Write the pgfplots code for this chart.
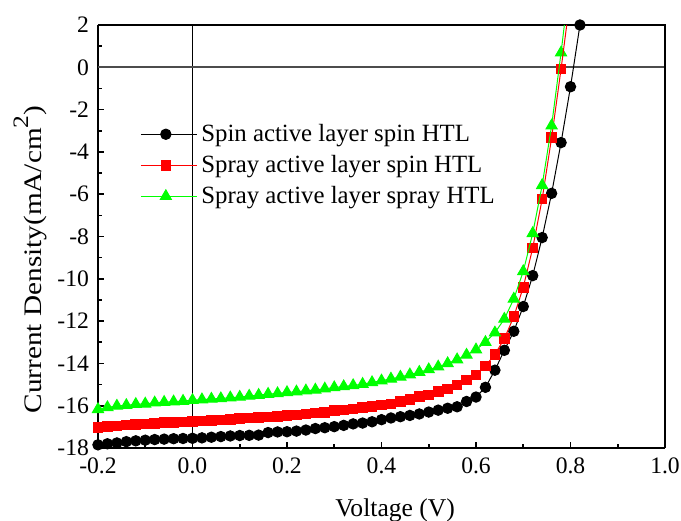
\documentclass[border=0pt]{standalone}
\usepackage{fontspec}
\setmainfont{Liberation Serif}
\usepackage{graphicx}
\usepackage{pgfplots}
\pgfplotsset{compat=1.18}

\newcommand{\fnt}{\fontsize{12.4}{14}\selectfont}
\newcommand{\tfnt}{\fontsize{11.8}{14}\selectfont}

\begin{document}
\begin{tikzpicture}
\begin{axis}[
  scale only axis,
  width=283.5pt, height=211.5pt,
  xmin=-0.2, xmax=1.0, ymin=-18, ymax=2,
  clip mode=individual,
  axis x line*=bottom, axis y line*=left,
  xtick={-0.2,0,0.2,0.4,0.6,0.8,1.0},
  xticklabels={-0.2,0.0,0.2,0.4,0.6,0.8,1.0},
  ytick={-18,-16,...,2},
  yticklabels={-18,-16,-14,-12,-10,-8,-6,-4,-2,0,2},
  minor x tick num=1, minor y tick num=1,
  tick align=inside,
  major tick length=3pt, minor tick length=2pt,
  tick style={black, line width=0.8pt},
  axis line style={line width=1pt},
  tick label style={font=\tfnt},
  xticklabel style={yshift=-1.5pt},
  yticklabel style={xshift=-1pt},
  legend style={draw=none, fill=none, font=\fnt, at={(rel axis cs:0.074,0.776)},
    anchor=north west, inner sep=0pt, row sep=1.4pt,
    /tikz/every even column/.append style={column sep=0pt}},
  legend cell align=left,
  legend image code/.code={\draw[mark repeat=2,mark phase=2,#1]
    plot coordinates {(0pt,0pt)(12.5pt,0pt)(25pt,0pt)}; \path (25pt,0pt) -- (28pt,0pt);},
]
\draw[black, line width=0.5pt] (axis cs:0,-18) -- (axis cs:0,2);
\draw[black!70, line width=0.8pt] (axis cs:-0.2,0) -- (axis cs:1,0);
\draw[black, line width=1pt] (rel axis cs:0,1) -- (rel axis cs:1,1) -- (rel axis cs:1,0);

\addplot[black, line width=0.5pt, mark=*, mark size=2.6pt, mark options={solid,fill=black}] coordinates {
(-0.20,-17.85) (-0.18,-17.80) (-0.16,-17.76) (-0.14,-17.70) (-0.12,-17.66)
(-0.10,-17.63) (-0.08,-17.60) (-0.06,-17.58) (-0.04,-17.56) (-0.02,-17.55)
(0.00,-17.54) (0.02,-17.52) (0.04,-17.49) (0.06,-17.46) (0.08,-17.43)
(0.10,-17.41) (0.12,-17.40) (0.14,-17.39) (0.16,-17.27) (0.18,-17.24)
(0.20,-17.23) (0.22,-17.20) (0.24,-17.15) (0.26,-17.08) (0.28,-17.04)
(0.30,-16.99) (0.32,-16.93) (0.34,-16.86) (0.36,-16.82) (0.38,-16.76)
(0.40,-16.66) (0.42,-16.58) (0.44,-16.52) (0.46,-16.46) (0.48,-16.39)
(0.50,-16.30) (0.52,-16.21) (0.54,-16.12) (0.56,-16.05) (0.58,-15.80)
(0.60,-15.59) (0.62,-15.13) (0.64,-14.32) (0.66,-13.38) (0.68,-12.48)
(0.70,-11.31) (0.72,-9.85) (0.74,-8.05) (0.76,-5.96) (0.78,-3.56)
(0.80,-0.92) (0.82,2.0)};
\addlegendentry{Spin active layer spin HTL}

\addplot[red, line width=0.5pt, mark=square*, mark size=2.4pt, mark options={solid,fill=red}] coordinates {
(-0.20,-17.04) (-0.18,-16.99) (-0.16,-16.96) (-0.14,-16.91) (-0.12,-16.88)
(-0.10,-16.87) (-0.08,-16.83) (-0.06,-16.80) (-0.04,-16.78) (-0.02,-16.77)
(0.00,-16.76) (0.02,-16.72) (0.04,-16.69) (0.06,-16.67) (0.08,-16.64)
(0.10,-16.61) (0.12,-16.59) (0.14,-16.56) (0.16,-16.53) (0.18,-16.50)
(0.20,-16.46) (0.22,-16.43) (0.24,-16.40) (0.26,-16.35) (0.28,-16.31)
(0.30,-16.24) (0.32,-16.20) (0.34,-16.15) (0.36,-16.09) (0.38,-16.03)
(0.40,-15.97) (0.42,-15.91) (0.44,-15.81) (0.46,-15.70) (0.48,-15.57)
(0.50,-15.49) (0.52,-15.34) (0.54,-15.21) (0.56,-15.02) (0.58,-14.78)
(0.60,-14.55) (0.62,-14.12) (0.64,-13.57) (0.66,-12.83) (0.68,-11.79)
(0.70,-10.40) (0.72,-8.55) (0.74,-6.23) (0.76,-3.33) (0.78,-0.08)};
\addlegendentry{Spray active layer spin HTL}

\addplot[green, line width=0.5pt, mark=triangle*, mark size=3.2pt, mark options={solid,fill=green}] coordinates {
(-0.20,-16.17) (-0.18,-16.08) (-0.16,-16.01) (-0.14,-15.98) (-0.12,-15.93)
(-0.10,-15.91) (-0.08,-15.86) (-0.06,-15.83) (-0.04,-15.81) (-0.02,-15.78)
(0.00,-15.74) (0.02,-15.71) (0.04,-15.68) (0.06,-15.66) (0.08,-15.62)
(0.10,-15.59) (0.12,-15.54) (0.14,-15.50) (0.16,-15.45) (0.18,-15.42)
(0.20,-15.37) (0.22,-15.34) (0.24,-15.29) (0.26,-15.25) (0.28,-15.20)
(0.30,-15.14) (0.32,-15.09) (0.34,-15.04) (0.36,-14.98) (0.38,-14.90)
(0.40,-14.82) (0.42,-14.73) (0.44,-14.64) (0.46,-14.53) (0.48,-14.41)
(0.50,-14.29) (0.52,-14.16) (0.54,-14.00) (0.56,-13.82) (0.58,-13.60)
(0.60,-13.35) (0.62,-13.00) (0.64,-12.55) (0.66,-11.90) (0.68,-10.95)
(0.70,-9.65) (0.72,-7.85) (0.74,-5.58) (0.76,-2.76) (0.78,0.69)};
\addlegendentry{Spray active layer spray HTL}

\addplot[red, line width=0.5pt, forget plot] coordinates {(0.78,-0.08) (0.792,2.0)};
\addplot[green, line width=0.5pt, forget plot] coordinates {(0.78,0.69) (0.787,2.0)};

\coordinate (bbsw) at (rel axis cs:-0.1728,-0.1702);
\coordinate (bbne) at (rel axis cs:1.0282,1.0591);
\node[font=\fontsize{12.6}{14}\selectfont, rotate=90, anchor=base, inner sep=0pt] at (rel axis cs:-0.0988,0.4456)
  {\scalebox{1.16}[1]{Current Density(mA/cm\raisebox{0.55em}{\fontsize{11}{11}\selectfont 2})}};
\node[font=\fontsize{12.8}{14}\selectfont, anchor=base] at (rel axis cs:0.524,-0.163) {Voltage (V)};
\end{axis}
\pgfresetboundingbox
\useasboundingbox (bbsw) rectangle (bbne);
\end{tikzpicture}
\end{document}
